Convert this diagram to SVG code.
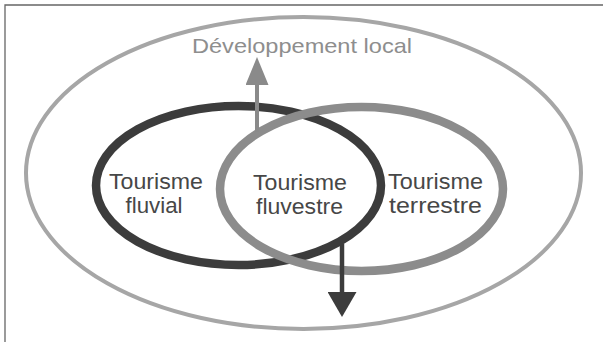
<svg xmlns="http://www.w3.org/2000/svg" width="603" height="342" viewBox="0 0 603 342">
<style>
.lbl{font-family:"Liberation Sans","DejaVu Sans",sans-serif;font-size:22px;fill:#474747;text-anchor:middle}
.ttl{font-family:"Liberation Sans","DejaVu Sans",sans-serif;font-size:21px;fill:#8e8e8e;text-anchor:middle}
</style>
<defs>
<marker id="ahGray" viewBox="0 0 28 23" refX="0" refY="11.5" markerWidth="28" markerHeight="23" markerUnits="userSpaceOnUse" orient="auto"><path d="M0,0 L28,11.5 L0,23 Z" fill="#8a8a8a"/></marker>
<marker id="ahDark" viewBox="0 0 25 29" refX="0" refY="14.5" markerWidth="25" markerHeight="29" markerUnits="userSpaceOnUse" orient="auto"><path d="M0,0 L25,14.5 L0,29 Z" fill="#3c3c3c"/></marker>
</defs>
<rect width="603" height="342" fill="#ffffff"/>
<path d="M5,342 V5 H603" fill="none" stroke="#666" stroke-width="1.3"/>
<g id="developpement-local">
<ellipse cx="303.5" cy="173" rx="277.5" ry="156" fill="none" stroke="#a6a6a6" stroke-width="4"/>
<text class="ttl" x="302" y="53" textLength="220" lengthAdjust="spacingAndGlyphs">Développement local</text>
</g>
<g id="tourisme-fluvial">
<ellipse cx="238.5" cy="185.5" rx="142.5" ry="79.5" fill="none" stroke="#3c3c3c" stroke-width="8.5"/>
<text class="lbl" x="156" y="189" textLength="94" lengthAdjust="spacingAndGlyphs">Tourisme</text>
<text class="lbl" x="154" y="213" textLength="57" lengthAdjust="spacingAndGlyphs">fluvial</text>
</g>
<g id="tourisme-terrestre">
<ellipse cx="361.5" cy="189" rx="141.5" ry="82" fill="none" stroke="#8c8c8c" stroke-width="8.5"/>
<text class="lbl" x="435.5" y="189" textLength="95" lengthAdjust="spacingAndGlyphs">Tourisme</text>
<text class="lbl" x="435.5" y="213" textLength="93" lengthAdjust="spacingAndGlyphs">terrestre</text>
</g>
<g id="tourisme-fluvestre">
<text class="lbl" x="300" y="190" textLength="94" lengthAdjust="spacingAndGlyphs">Tourisme</text>
<text class="lbl" x="299.5" y="214" textLength="87" lengthAdjust="spacingAndGlyphs">fluvestre</text>
</g>
<g id="connectors">
<line x1="257" y1="132" x2="257" y2="85" stroke="#8a8a8a" stroke-width="4" marker-end="url(#ahGray)"/>
<line x1="342" y1="244" x2="342" y2="292" stroke="#3c3c3c" stroke-width="4.5" marker-end="url(#ahDark)"/>
</g>
</svg>
